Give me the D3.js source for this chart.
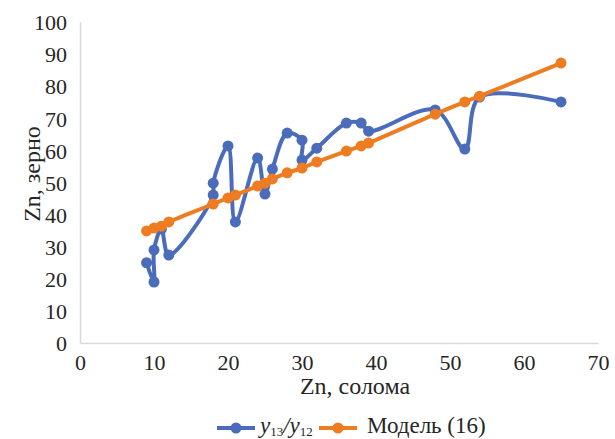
<!DOCTYPE html>
<html>
<head>
<meta charset="utf-8">
<script src="https://cdn.jsdelivr.net/npm/d3@7"></script>
<style>
  body { margin: 0; background: #fff; }
  svg text { font-family: "Liberation Serif", "Times New Roman", serif; fill: #262626; }
</style>
</head>
<body>
<div id="chart"></div>
<script>
// data
let obsX = [9, 10, 10, 11, 12, 18, 18, 20, 21, 24, 25, 26, 28, 30, 30, 32, 36, 38, 39, 48, 52, 54, 65];
let obsY = [25, 19, 29, 35.5, 27.4, 46.1, 49.8, 61.4, 37.7, 57.6, 46.4, 54.2, 65.4, 63.2, 57, 60.7, 68.5, 68.5, 66, 72.6, 60.4, 76.6, 75.1];

let modelX = [9, 10, 11, 12, 18, 20, 21, 24, 25, 26, 28, 30, 32, 36, 38, 39, 48, 52, 54, 65];
let modelY = [34.9, 35.8, 36.4, 37.7, 43.3, 45.2, 46.1, 48.9, 49.8, 51.1, 53, 54.5, 56.4, 59.8, 61.4, 62.3, 71.3, 75.1, 76.9, 87.2];

let xTicks = [0, 10, 20, 30, 40, 50, 60, 70];
let yTicks = [0, 10, 20, 30, 40, 50, 60, 70, 80, 90, 100];

let blue = "#4a6cbb";
let orange = "#ee7d22";

let width = 615, height = 439;

let svg = d3.select("#chart").append("svg")
    .attr("width", width)
    .attr("height", height);

let x = d3.scaleLinear().domain([0, 70]).range([80, 598]);
let y = d3.scaleLinear().domain([0, 100]).range([343, 22]);

// axes
let xAxis = svg.append("g")
    .attr("transform", "translate(0," + y(0) + ")")
    .call(d3.axisBottom(x).tickValues(xTicks).tickSize(0).tickPadding(11));
let yAxis = svg.append("g")
    .attr("transform", "translate(" + x(0) + ",0)")
    .call(d3.axisLeft(y).tickValues(yTicks).tickSize(0).tickPadding(13));

[xAxis, yAxis].forEach(a => {
    a.select(".domain").attr("stroke", "#d9d9d9").attr("stroke-width", 1.5);
    a.selectAll("text").style("font-size", "22px").attr("fill", "#262626");
});
yAxis.selectAll("text").attr("dy", "0.35em");
xAxis.selectAll("text").attr("dy", "0.71em");

// axis titles
svg.append("text")
    .attr("x", 355)
    .attr("y", 394)
    .attr("text-anchor", "middle")
    .style("font-size", "24px")
    .text("Zn, солома");

svg.append("text")
    .attr("transform", "translate(40,174) rotate(-90)")
    .attr("text-anchor", "middle")
    .style("font-size", "24px")
    .text("Zn, зерно");

// series
let line = d3.line().curve(d3.curveCatmullRom.alpha(0.5));

function drawSeries(xs, ys, color){
    let pts = xs.map((d, i) => [x(d), y(ys[i])]);
    svg.append("path")
        .attr("d", line(pts))
        .attr("fill", "none")
        .attr("stroke", color)
        .attr("stroke-width", 4)
        .attr("stroke-linejoin", "round");
    svg.append("g").selectAll("circle")
        .data(pts)
        .enter().append("circle")
        .attr("cx", d => d[0])
        .attr("cy", d => d[1])
        .attr("r", 5.5)
        .attr("fill", color);
}

drawSeries(obsX, obsY, blue);
drawSeries(modelX, modelY, orange);

// legend
let legY = 428;
let leg = svg.append("g");

function legendKey(x0, color){
    leg.append("line")
        .attr("x1", x0).attr("x2", x0 + 38)
        .attr("y1", legY).attr("y2", legY)
        .attr("stroke", color).attr("stroke-width", 4);
    leg.append("circle")
        .attr("cx", x0 + 19).attr("cy", legY).attr("r", 5.5)
        .attr("fill", color);
}

legendKey(217, blue);
let t1 = leg.append("text")
    .attr("x", 260).attr("y", 433)
    .style("font-size", "23px");
t1.append("tspan").style("font-style", "italic").text("y");
t1.append("tspan").attr("dy", 3).style("font-size", "13px").text("13");
t1.append("tspan").attr("dy", -3).style("font-style", "italic").text("/y");
t1.append("tspan").attr("dy", 3).style("font-size", "13px").text("12");

legendKey(319, orange);
leg.append("text")
    .attr("x", 367).attr("y", 433)
    .style("font-size", "23px")
    .text("Модель (16)");
</script>
</body>
</html>
